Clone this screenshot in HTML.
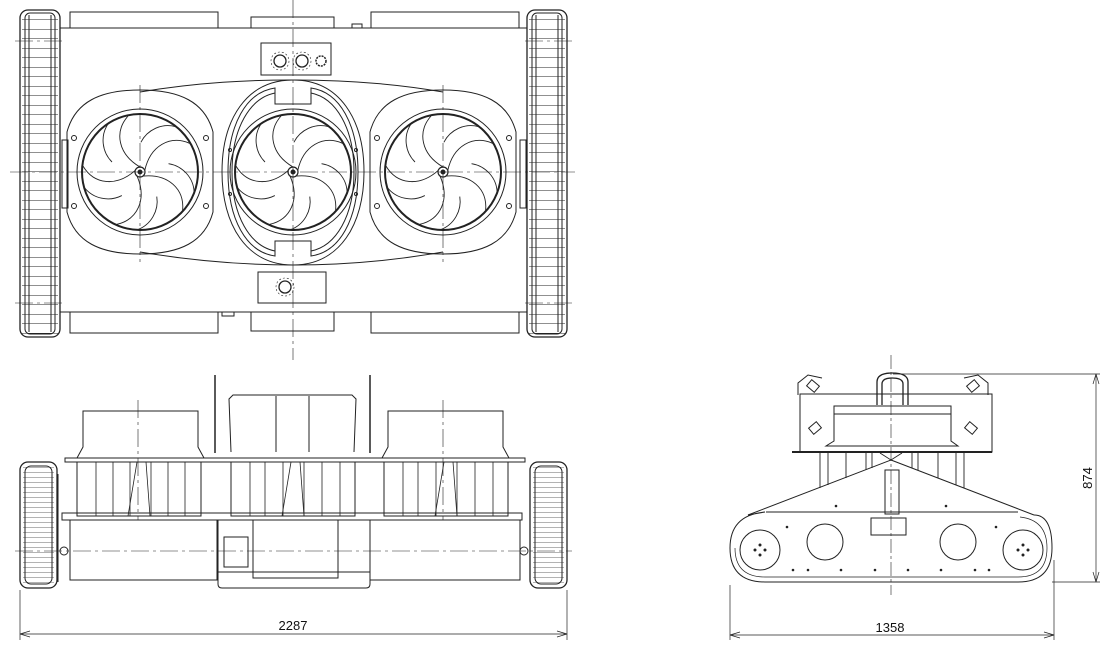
<!DOCTYPE html>
<html><head><meta charset="utf-8"><style>
html,body{margin:0;padding:0;background:#fff;}
svg{display:block;}
text{font-family:"Liberation Sans",sans-serif;font-size:13px;fill:#111;}
</style></head><body>
<svg width="1110" height="656" viewBox="0 0 1110 656" xmlns="http://www.w3.org/2000/svg" fill="none" stroke="#222" stroke-width="1">
<defs>
<pattern id="rungs" x="0" y="0" width="40" height="9.5" patternUnits="userSpaceOnUse"><line x1="0" y1="0" x2="40" y2="0" stroke="#222" stroke-width="1"/></pattern>
<pattern id="rungs2" x="0" y="0" width="40" height="5" patternUnits="userSpaceOnUse"><line x1="0" y1="0" x2="40" y2="0" stroke="#333" stroke-width="0.8"/></pattern>
<g id="blade">
<path d="M0,-5 C-22,-18 -26,-40 -12,-56"/>
<path d="M-32,-48 C-40,-36 -38,-20 -28,-10"/>
</g>
<g id="fan">
<circle r="63" stroke-width="1"/>
<circle r="58" stroke-width="2"/>
<g stroke-width="0.9">
<use href="#blade"/>
<use href="#blade" transform="rotate(72)"/>
<use href="#blade" transform="rotate(144)"/>
<use href="#blade" transform="rotate(216)"/>
<use href="#blade" transform="rotate(288)"/>
</g>
<circle r="5" stroke-width="1.2" fill="#fff"/><circle r="2" fill="#222"/>
</g>
<g id="housing">
<path d="M-73,-40 C-65,-70 -40,-82 0,-82 C40,-82 65,-70 73,-40 L73,40 C65,70 40,82 0,82 C-40,82 -65,70 -73,40 Z"/>
<circle cx="-66" cy="-34" r="2.5"/><circle cx="66" cy="-34" r="2.5"/><circle cx="-66" cy="34" r="2.5"/><circle cx="66" cy="34" r="2.5"/>
</g>
<g id="track">
<rect x="2" y="5" width="36" height="319" fill="url(#rungs)" stroke="none"/>
<rect x="0" y="0" width="40" height="327" rx="8" stroke-width="1.3"/>
<rect x="5" y="3" width="30" height="321" rx="5"/>
<line x1="9" y1="5" x2="9" y2="322"/><line x1="31" y1="5" x2="31" y2="322"/>
</g>
<g id="swheel">
<rect x="3" y="4" width="31" height="118" fill="url(#rungs2)" stroke="none"/>
<rect x="0" y="0" width="37" height="126" rx="8" stroke-width="1.3"/>
<rect x="5" y="4" width="27" height="118" rx="6"/>
</g>
</defs>

<!-- ===== TOP VIEW ===== -->
<rect x="70" y="12" width="148" height="16"/><rect x="251" y="17" width="83" height="11"/><rect x="371" y="12" width="148" height="16"/><rect x="352" y="24" width="10" height="4"/>
<rect x="70" y="312" width="148" height="21"/><rect x="251" y="312" width="83" height="19"/><rect x="371" y="312" width="148" height="21"/><rect x="222" y="312" width="12" height="4"/>
<rect x="60" y="28" width="467" height="284"/>
<use href="#track" x="20" y="10"/>
<use href="#track" x="527" y="10"/>
<rect x="62" y="140" width="6" height="68"/><rect x="520" y="140" width="6" height="68"/>
<path d="M140,92 C200,82 250,80 293,80 C336,80 386,82 443,92 M140,252 C200,262 250,265 293,265 C336,265 386,262 443,252"/>
<use href="#housing" x="140" y="172"/>
<use href="#housing" x="443" y="172"/>
<path d="M293,80 C340,80 364,120 364,172 C364,224 340,265 293,265 C246,265 222,224 222,172 C222,120 246,80 293,80 Z"/>
<path d="M275,88 L275,104 L311,104 L311,88 C340,92 358,125 358,172 C358,219 340,252 311,256 L311,241 L275,241 L275,256 C246,252 228,219 228,172 C228,125 246,92 275,88 Z"/>
<path d="M275,93 C250,98 232,128 232,172 C232,216 250,246 275,251 M311,93 C336,98 354,128 354,172 C354,216 336,246 311,251"/>
<circle cx="230" cy="150" r="1.5"/><circle cx="230" cy="194" r="1.5"/><circle cx="356" cy="150" r="1.5"/><circle cx="356" cy="194" r="1.5"/>
<use href="#fan" x="140" y="172"/>
<use href="#fan" x="293" y="172"/>
<use href="#fan" x="443" y="172"/>
<rect x="261" y="43" width="70" height="32"/>
<circle cx="280" cy="61" r="6" stroke-width="1.3"/><circle cx="280" cy="61" r="9" stroke-dasharray="2 2" stroke-width="0.6"/>
<circle cx="302" cy="61" r="6" stroke-width="1.3"/><circle cx="302" cy="61" r="9" stroke-dasharray="2 2" stroke-width="0.6"/>
<circle cx="321" cy="61" r="5" stroke-width="1.5" stroke-dasharray="2 1"/>
<rect x="258" y="272" width="68" height="31"/>
<circle cx="285" cy="287" r="6" stroke-width="1.3"/><circle cx="285" cy="287" r="9" stroke-dasharray="2 2" stroke-width="0.6"/>
<g stroke-width="0.6" stroke-dasharray="18 4 3 4">
<line x1="293" y1="0" x2="293" y2="360"/>
<line x1="10" y1="172" x2="575" y2="172"/>
<line x1="140" y1="85" x2="140" y2="262"/><line x1="443" y1="85" x2="443" y2="262"/>
<line x1="15" y1="41" x2="62" y2="41"/><line x1="15" y1="303" x2="62" y2="303"/>
<line x1="525" y1="41" x2="572" y2="41"/><line x1="525" y1="303" x2="572" y2="303"/>
</g>

<!-- ===== SIDE VIEW ===== -->
<line x1="215" y1="375" x2="215" y2="453" stroke-width="1.5"/><line x1="370" y1="375" x2="370" y2="453" stroke-width="1.5"/>
<path d="M83,447 L83,411 L198,411 L198,447 L204,458 L77,458 Z"/>
<path d="M231,452 L229,399 L233,395 L352,395 L356,399 L354,452"/>
<line x1="276" y1="396" x2="276" y2="452"/><line x1="309" y1="396" x2="309" y2="452"/>
<path d="M388,447 L388,411 L503,411 L503,447 L509,458 L382,458 Z"/>
<rect x="65" y="458" width="460" height="4"/>
<rect x="77" y="462" width="124" height="54"/><rect x="231" y="462" width="124" height="54"/><rect x="384" y="462" width="124" height="54"/>
<g stroke-width="0.8">
<line x1="96" y1="462" x2="96" y2="516"/><line x1="113" y1="462" x2="113" y2="516"/><line x1="130" y1="462" x2="130" y2="516"/><line x1="151" y1="462" x2="151" y2="516"/><line x1="168" y1="462" x2="168" y2="516"/><line x1="185" y1="462" x2="185" y2="516"/>
<line x1="250" y1="462" x2="250" y2="516"/><line x1="265" y1="462" x2="265" y2="516"/><line x1="283" y1="462" x2="283" y2="516"/><line x1="304" y1="462" x2="304" y2="516"/><line x1="322" y1="462" x2="322" y2="516"/><line x1="340" y1="462" x2="340" y2="516"/>
<line x1="403" y1="462" x2="403" y2="516"/><line x1="418" y1="462" x2="418" y2="516"/><line x1="436" y1="462" x2="436" y2="516"/><line x1="457" y1="462" x2="457" y2="516"/><line x1="475" y1="462" x2="475" y2="516"/><line x1="493" y1="462" x2="493" y2="516"/>
<path d="M137,462 L128,516 M146,462 L150,516 M291,462 L282,516 M300,462 L304,516 M444,462 L435,516 M453,462 L457,516"/>
</g>
<rect x="62" y="513" width="460" height="7"/>
<rect x="70" y="520" width="147" height="60"/><rect x="370" y="520" width="150" height="60"/>
<path d="M218,520 L218,584 Q218,588 222,588 L366,588 Q370,588 370,584 L370,520"/>
<rect x="253" y="520" width="85" height="58"/>
<rect x="224" y="537" width="24" height="30"/>
<line x1="218" y1="572" x2="370" y2="572"/>
<use href="#swheel" x="20" y="462"/>
<use href="#swheel" x="530" y="462"/>
<line x1="58" y1="474" x2="58" y2="582"/><line x1="530" y1="474" x2="530" y2="582"/>
<circle cx="64" cy="551" r="4"/><circle cx="524" cy="551" r="4"/>
<g stroke-width="0.6" stroke-dasharray="18 4 3 4">
<line x1="15" y1="551" x2="572" y2="551"/>
<line x1="138" y1="400" x2="138" y2="520"/><line x1="443" y1="400" x2="443" y2="520"/>
</g>
<g stroke-width="0.7">
<line x1="20" y1="590" x2="20" y2="640"/><line x1="567" y1="590" x2="567" y2="640"/>
<line x1="20" y1="634" x2="567" y2="634"/>
<path d="M20,634 L30,631 M20,634 L30,637 M567,634 L557,631 M567,634 L557,637"/>
</g>
<text x="293" y="630" text-anchor="middle" stroke="none">2287</text>

<!-- ===== FRONT VIEW ===== -->
<path d="M891,460 L748,515 M891,460 L1034,515"/>
<path d="M748,515 L765,512 Q730,515 730,548 Q730,582 765,582 L1018,582 Q1052,582 1052,548 Q1052,515 1034,515"/>
<path d="M766,512 L1018,512"/>
<path d="M735,548 Q735,577 765,577 L1018,577 Q1047,577 1047,548 Q1047,520 1020,517" stroke-width="0.7"/>
<circle cx="760" cy="550" r="20"/><circle cx="825" cy="542" r="18"/><circle cx="958" cy="542" r="18"/><circle cx="1023" cy="550" r="20"/>
<rect x="885" y="470" width="14" height="44"/>
<rect x="871" y="518" width="35" height="17"/>
<rect x="800" y="394" width="192" height="58"/>
<rect x="834" y="406" width="117" height="8"/>
<path d="M834,414 L834,441 L826,446 L958,446 L951,441 L951,414"/>
<path d="M877,405 L877,382 Q877,373 892,373 Q908,373 908,382 L908,405 M882,405 L882,384 Q882,378 892,378 Q903,378 903,384 L903,405" stroke-width="1.3"/>
<path d="M798,395 L798,383 L808,375 L822,378 M988,395 L988,383 L978,375 L964,378"/>
<rect x="808" y="382" width="10" height="8" transform="rotate(40 813 386)"/><rect x="968" y="382" width="10" height="8" transform="rotate(-40 973 386)"/>
<rect x="810" y="424" width="10" height="8" transform="rotate(-40 815 428)"/><rect x="966" y="424" width="10" height="8" transform="rotate(40 971 428)"/>
<line x1="792" y1="452" x2="992" y2="452" stroke-width="2"/>
<g stroke-width="0.9">
<line x1="820" y1="453" x2="820" y2="488"/><line x1="828" y1="453" x2="828" y2="485"/><line x1="846" y1="453" x2="846" y2="478"/><line x1="866" y1="453" x2="866" y2="470"/><line x1="872" y1="453" x2="872" y2="468"/>
<line x1="912" y1="453" x2="912" y2="468"/><line x1="918" y1="453" x2="918" y2="470"/><line x1="938" y1="453" x2="938" y2="478"/><line x1="956" y1="453" x2="956" y2="485"/><line x1="964" y1="453" x2="964" y2="488"/>
<path d="M880,453 L891,460 L902,453"/>
</g>
<g fill="#222" stroke="none">
<circle cx="787" cy="527" r="1.3"/><circle cx="836" cy="506" r="1.3"/><circle cx="946" cy="506" r="1.3"/><circle cx="996" cy="527" r="1.3"/>
<circle cx="793" cy="570" r="1.3"/><circle cx="808" cy="570" r="1.3"/><circle cx="841" cy="570" r="1.3"/><circle cx="875" cy="570" r="1.3"/><circle cx="908" cy="570" r="1.3"/><circle cx="941" cy="570" r="1.3"/><circle cx="975" cy="570" r="1.3"/><circle cx="989" cy="570" r="1.3"/>
<circle cx="755" cy="550" r="1.5"/><circle cx="765" cy="550" r="1.5"/><circle cx="760" cy="545" r="1.5"/><circle cx="760" cy="555" r="1.5"/>
<circle cx="1018" cy="550" r="1.5"/><circle cx="1028" cy="550" r="1.5"/><circle cx="1023" cy="545" r="1.5"/><circle cx="1023" cy="555" r="1.5"/>
</g>
<g stroke-width="0.6" stroke-dasharray="14 3 3 3">
<line x1="891" y1="355" x2="891" y2="595"/>
</g>
<g stroke-width="0.7">
<line x1="893" y1="374" x2="1100" y2="374"/><line x1="1052" y1="582" x2="1100" y2="582"/>
<line x1="1096" y1="374" x2="1096" y2="582"/>
<path d="M1096,374 L1093,384 M1096,374 L1099,384 M1096,582 L1093,572 M1096,582 L1099,572"/>
<line x1="730" y1="585" x2="730" y2="640"/><line x1="1054" y1="560" x2="1054" y2="640"/>
<line x1="730" y1="635" x2="1054" y2="635"/>
<path d="M730,635 L740,632 M730,635 L740,638 M1054,635 L1044,632 M1054,635 L1044,638"/>
</g>
<text x="890" y="632" text-anchor="middle" stroke="none">1358</text>
<text x="0" y="0" text-anchor="middle" stroke="none" transform="translate(1092,478) rotate(-90)">874</text>
</svg>
</body></html>
